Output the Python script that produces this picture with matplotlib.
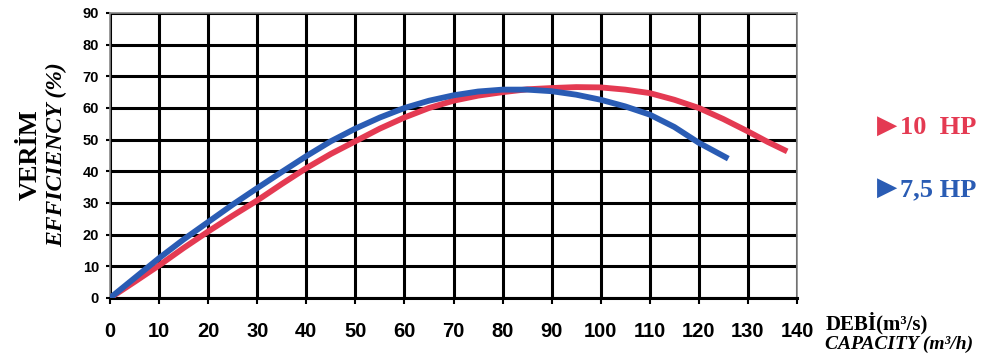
import numpy as np
import matplotlib
matplotlib.use("Agg")
import matplotlib.pyplot as plt

# capacity (m3/h) and efficiency (%)
q_10hp = [0, 5, 10, 15, 20, 25, 30, 35, 40, 45, 50, 55, 60, 65, 70, 75, 80, 85,
          90, 95, 100, 105, 110, 115, 120, 125, 130, 134, 138]
eff_10hp = [0, 5.1, 10.3, 15.8, 21, 26, 30.8, 36, 41, 45.5, 49.5, 53.5, 57, 60,
            62.3, 63.9, 65, 65.9, 66.3, 66.6, 66.5, 65.8, 64.7, 62.6, 60, 56.5,
            52.6, 49.3, 46.3]

q_75hp = [0, 5, 10, 15, 20, 25, 30, 35, 40, 45, 50, 55, 60, 65, 70, 75, 80, 85,
          90, 95, 100, 105, 110, 115, 120, 123, 126]
eff_75hp = [0, 6.3, 12.6, 18.5, 24, 29.5, 34.7, 39.8, 44.8, 49.5, 53.5, 57, 60,
            62.3, 64, 65.2, 65.8, 65.8, 65.3, 64.2, 62.6, 60.5, 57.9, 54, 49,
            46.5, 44]

x_ticks = list(range(0, 141, 10))
y_ticks = list(range(0, 91, 10))

RED = "#e43a52"
BLUE = "#2a5cb4"
SERIF = ["Liberation Serif", "DejaVu Serif"]
SANS = ["Liberation Sans", "DejaVu Sans"]

fig = plt.figure(figsize=(9.87, 3.55), dpi=100)
ax = fig.add_axes([0.1115, 0.1606, 0.696, 0.8028])

ax.set_xlim(0, 140)
ax.set_ylim(0, 90)
ax.set_xticks(x_ticks)
ax.set_yticks(y_ticks)
ax.grid(True, color="black", linewidth=2.2)
ax.set_axisbelow(True)

for side in ["top", "right", "left"]:
    ax.spines[side].set_color("#888888")
    ax.spines[side].set_linewidth(1.2)
ax.spines["bottom"].set_color("black")
ax.spines["bottom"].set_linewidth(2.2)

ax.plot(q_10hp, eff_10hp, color=RED, linewidth=4.2, solid_capstyle="butt", zorder=3)
ax.plot(q_75hp, eff_75hp, color=BLUE, linewidth=4.2, solid_capstyle="butt", zorder=4)

ax.tick_params(axis="x", length=4, width=1.5, pad=13, labelsize=14.5)
ax.tick_params(axis="y", length=3, width=1.5, pad=5, labelsize=10.5)
for lab in ax.get_xticklabels() + ax.get_yticklabels():
    lab.set_fontfamily(SANS)
    lab.set_fontweight("bold")

# y axis title (two lines)
fig.text(0.031, 0.565, "VERİM", rotation=90, ha="center", va="center",
         family=SERIF, fontweight="bold", fontsize=19)
fig.text(0.057, 0.565, "EFFICIENCY (%)", rotation=90, ha="center", va="center",
         family=SERIF, fontweight="bold", fontstyle="italic", fontsize=17)

# x axis title
fig.text(0.836, 0.09, "DEBİ(m³/s)", ha="left", va="center",
         family=SERIF, fontweight="bold", fontsize=15)
fig.text(0.836, 0.03, "CAPACITY (m³/h)", ha="left", va="center",
         family=SERIF, fontweight="bold", fontstyle="italic", fontsize=14)

# legend labels
fig.text(0.888, 0.645, "▶", ha="left", va="center", color=RED,
         family=["DejaVu Sans"], fontsize=19)
fig.text(0.912, 0.64, "10  HP", ha="left", va="center", color=RED,
         family=SERIF, fontweight="bold", fontsize=19)
fig.text(0.888, 0.47, "▶", ha="left", va="center", color=BLUE,
         family=["DejaVu Sans"], fontsize=19)
fig.text(0.912, 0.465, "7,5 HP", ha="left", va="center", color=BLUE,
         family=SERIF, fontweight="bold", fontsize=19)

fig.savefig("out.png", dpi=100)
